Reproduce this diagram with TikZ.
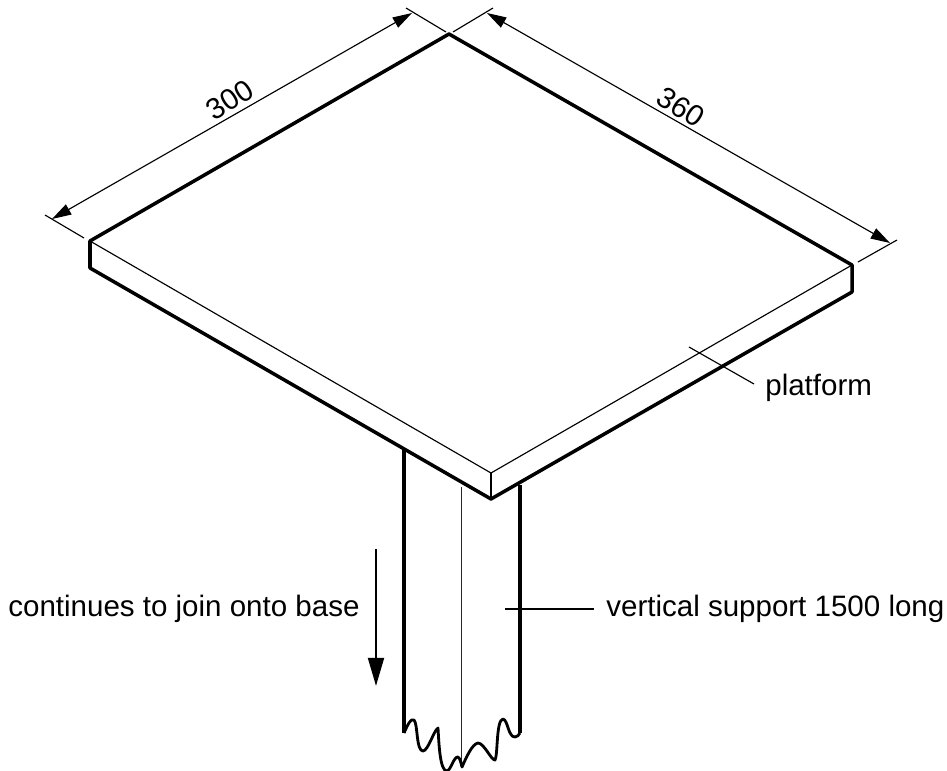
\documentclass[tikz,border=0pt]{standalone}
\usepackage{fontspec}
\setmainfont{Liberation Sans}
\usetikzlibrary{arrows.meta}
\tikzset{
	edgeline/.style={line width=2pt,line join=round},
	fineline/.style={line width=0.65pt},
	dimline/.style={fineline,{Triangle[length=11pt,width=6.5pt]}-{Triangle[length=11pt,width=6.5pt]}},
	label/.style={font=\fontsize{16.8}{20}\selectfont,inner sep=0pt},
}
\begin{document}
\begin{tikzpicture}[x=0.02cm,y=-0.02cm]
	\useasboundingbox (0,0) rectangle (947,771);

	% Platform corners
	\coordinate (top) at (449,34);
	\coordinate (left) at (90,241);
	\coordinate (right) at (852,265);
	\coordinate (front) at (491,473);
	\coordinate (leftlow) at (90,268);
	\coordinate (rightlow) at (852,292);
	\coordinate (frontlow) at (491,499);

	% Platform
	\draw[edgeline] (top) -- (left) -- (leftlow) -- (frontlow) -- (rightlow) -- (right) -- cycle;
	\draw[fineline] (left) -- (front) -- (right);
	\draw[fineline] (front) -- (frontlow);

	% Support, rough bottom edge
	\coordinate (suptopl) at (404,450);
	\coordinate (suplowl) at (404,733);
	\coordinate (suptopr) at (520,485);
	\coordinate (suplowr) at (520,733);
	\coordinate (suptopm) at (461.5,487);
	\coordinate (suplowm) at (461.5,767);
	\draw[edgeline] (suptopl) -- (suplowl);
	\draw[edgeline] (suptopr) -- (suplowr);
	\draw[line width=1.1pt,black!85] (suptopm) -- (suplowm);
	\draw[line width=1.6pt,line join=round] (suplowl)
		.. controls (408,724) and (411,718) .. (414,720)
		.. controls (418,724) and (416,751) .. (423,751)
		.. controls (428,751) and (434,730) .. (438,728)
		.. controls (439,745) and (440,771) .. (447,771)
		.. controls (451,770) and (454,756) .. (458,757)
		.. controls (460,758) and (461,763) .. (462,767)
		.. controls (466,758) and (472,744) .. (478,743)
		.. controls (484,743) and (491,760) .. (495,760)
		.. controls (498,755) and (496,720) .. (503,719)
		.. controls (508,720) and (508,737) .. (515,737)
		.. controls (517,737) and (519,735) .. (suplowr);

	% Dimensions
	\coordinate (exta1) at (45,215);
	\coordinate (exta2) at (84,238);
	\coordinate (extb1) at (406,8);
	\coordinate (extb2) at (446,32);
	\coordinate (extc1) at (453,32);
	\coordinate (extc2) at (493,8);
	\coordinate (extd1) at (858,262);
	\coordinate (extd2) at (897,240);
	\draw[fineline] (exta1) -- (exta2);
	\draw[fineline] (extb1) -- (extb2);
	\draw[fineline] (extc1) -- (extc2);
	\draw[fineline] (extd1) -- (extd2);
	\coordinate (dima) at (52,219);
	\coordinate (dimb) at (412,13);
	\coordinate (dimc) at (487,13);
	\coordinate (dimd) at (890,243);
	\draw[dimline] (dima) -- (dimb);
	\draw[dimline] (dimc) -- (dimd);
	\node[label,rotate=33] (width) at (230,100) {300};
	\node[label,rotate=-33] (depth) at (681,107) {360};

	% Labels
	\node[label,anchor=base west] (platform) at (765,395) {platform};
	\node[label,anchor=base west] (support) at (606,616) {vertical support 1500 long};
	\node[label,anchor=base west] (base) at (8,616) {continues to join onto base};
	\coordinate (platformtip) at (689,347);
	\coordinate (platformend) at (754,384);
	\coordinate (supporttip) at (505,609);
	\coordinate (supportend) at (594,609);
	\draw[fineline] (platformtip) -- (platformend);
	\draw[fineline] (supporttip) -- (supportend);

	% Direction arrow
	\coordinate (arrowtop) at (376,549);
	\coordinate (arrowend) at (376,686);
	\draw[line width=1.4pt,-{Triangle[length=16pt,width=9pt]}] (arrowtop) -- (arrowend);
\end{tikzpicture}
\end{document}
